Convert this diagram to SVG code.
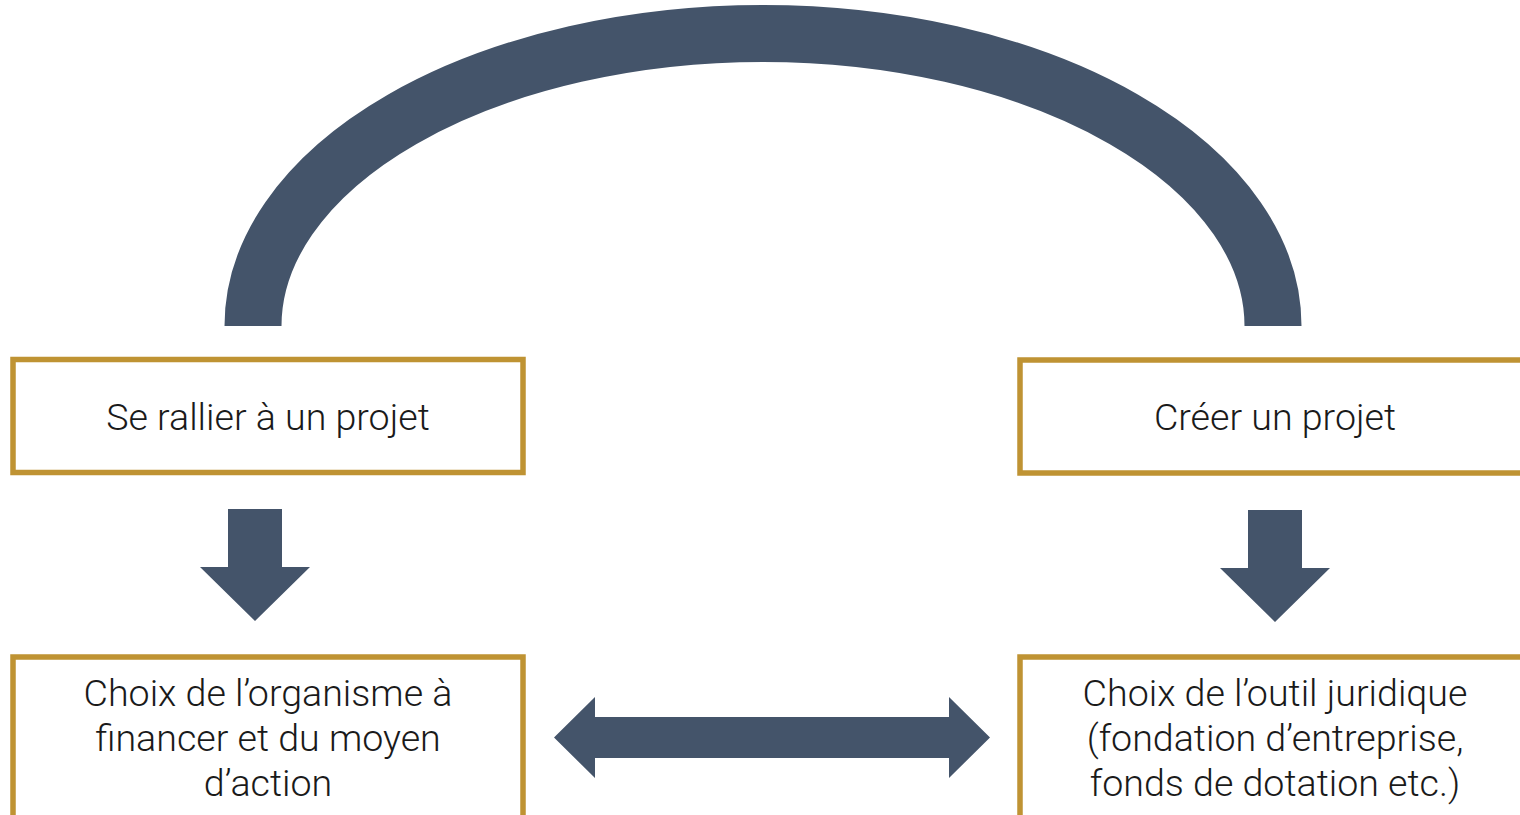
<svg xmlns="http://www.w3.org/2000/svg" width="1520" height="815" viewBox="0 0 1520 815">
<style>
.box{fill:#FFFFFF;stroke:#BF9333;stroke-width:5.5}
.arr{fill:#44546A}
.t{font-family:Roboto,"Liberation Sans",sans-serif;font-weight:300;font-size:37.6px;fill:#1A1A1A;text-anchor:middle}
</style>
<rect width="1520" height="815" fill="#FFFFFF"/>
<g id="connectors">
<path d="M 253 326 A 510 292.5 0 0 1 1273 326" fill="none" stroke="#44546A" stroke-width="57"/>
<polygon class="arr" points="228,509 282,509 282,567 310,567 255,621 200,567 228,567"/>
<polygon class="arr" points="1248,510 1302,510 1302,568 1330,568 1275,622 1220,568 1248,568"/>
<polygon class="arr" points="554,737.5 595,697 595,717 949,717 949,697 990,737.5 949,778 949,758 595,758 595,778"/>
</g>
<g id="node-rallier">
<rect class="box" x="13" y="359.5" width="510" height="113"/>
<text class="t" x="268" y="429.5">Se rallier à un projet</text>
</g>
<g id="node-creer">
<rect class="box" x="1020" y="360" width="510" height="113"/>
<text class="t" x="1275" y="429.5">Créer un projet</text>
</g>
<g id="node-organisme">
<rect class="box" x="13" y="657" width="510" height="200"/>
<text class="t" x="268" y="705.5">Choix de l’organisme à</text>
<text class="t" x="268" y="750.5">financer et du moyen</text>
<text class="t" x="268" y="795.5">d’action</text>
</g>
<g id="node-outil">
<rect class="box" x="1020" y="657" width="510" height="200"/>
<text class="t" x="1275" y="705.5">Choix de l’outil juridique</text>
<text class="t" x="1275" y="750.5">(fondation d’entreprise,</text>
<text class="t" x="1275" y="795.5">fonds de dotation etc.)</text>
</g>
</svg>
